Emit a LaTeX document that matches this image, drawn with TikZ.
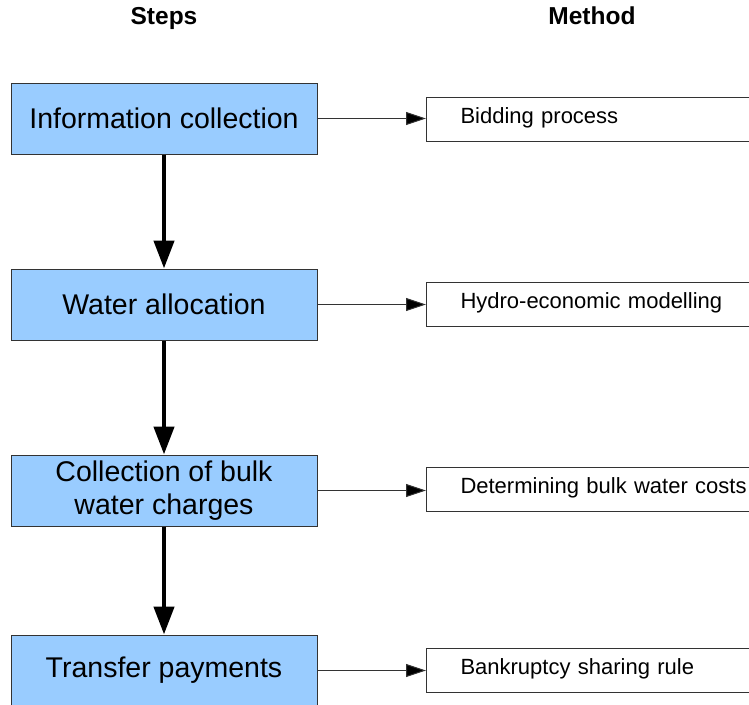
\documentclass[tikz,border=0pt]{standalone}
\usepackage{fontspec}
\setmainfont{Liberation Sans}
\usetikzlibrary{arrows.meta}
\definecolor{stepblue}{HTML}{99CCFF}
\definecolor{edgegray}{HTML}{333333}
\tikzset{
  stepbox/.style={draw=edgegray, line width=1pt, fill=stepblue, minimum width=306pt, minimum height=71pt,
    inner sep=0pt, align=center, font=\fontsize{28.5}{33}\selectfont},
  methbox/.style={draw=edgegray, line width=1pt, fill=white, anchor=west, minimum height=44pt,
    text width=300pt, text height=14pt, text depth=6pt, inner xsep=34pt, inner ysep=0pt, align=left,
    font=\fontsize{22}{25}\selectfont},
  header/.style={anchor=base, font=\fontsize{24.5}{28}\selectfont\bfseries},
  downarrow/.style={line width=4.5pt, -{Triangle[length=28pt,width=20pt]}},
  sidearrow/.style={draw=edgegray, line width=1pt, -{Triangle[length=20pt,width=13pt,fill=black]}}
}
\begin{document}
\begin{tikzpicture}[x=1pt,y=-1pt]
\useasboundingbox (0,0) rectangle (749,704);
\node[header] (hs) at (164,24) {Steps};
\node[header] (hm) at (592,24) {Method};

\node[stepbox] (s1) at (164,118.5) {Information collection};
\node[stepbox] (s2) at (164,304.5) {Water allocation};
\node[stepbox] (s3) at (164,490.5) {Collection of bulk\\water charges};
\node[stepbox] (s4) at (164,670.5) {Transfer payments};

\node[methbox] (m1) at (426,119) {Bidding process};
\node[methbox] (m2) at (426,304.5) {Hydro-economic modelling};
\node[methbox] (m3) at (426,489.5) {Determining bulk water costs};
\node[methbox] (m4) at (426,670) {Bankruptcy sharing rule};

\draw[downarrow] (s1) -- (s2);
\draw[downarrow] (s2) -- (s3);
\draw[downarrow] (s3) -- (s4);

\draw[sidearrow] (s1.east) -- (s1.east -| m1.west);
\draw[sidearrow] (s2.east) -- (s2.east -| m2.west);
\draw[sidearrow] (s3.east) -- (s3.east -| m3.west);
\draw[sidearrow] (s4.east) -- (s4.east -| m4.west);
\end{tikzpicture}
\end{document}
